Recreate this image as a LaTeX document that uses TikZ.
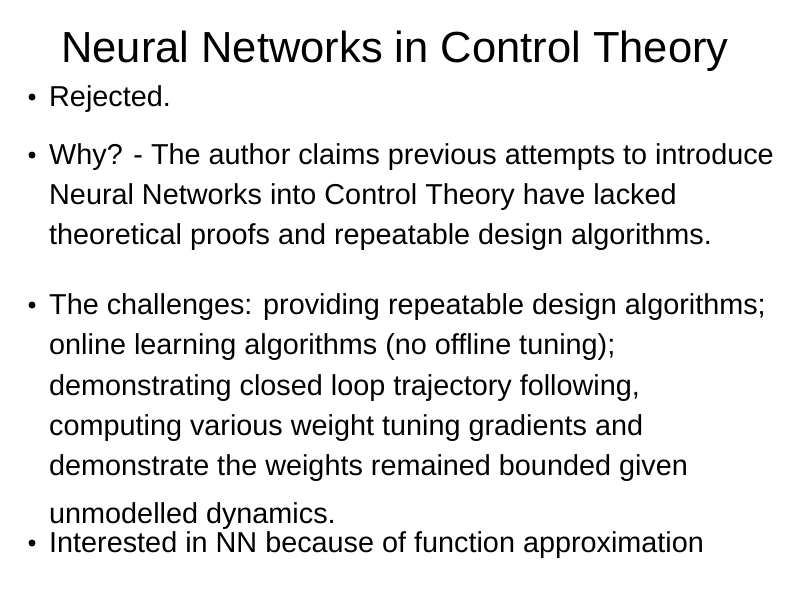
\documentclass[tikz,border=0pt]{standalone}
\usepackage{fontspec}
\setmainfont{Liberation Sans}
\begin{document}
\begin{tikzpicture}[x=1pt,y=-1pt,
  body/.style={anchor=base west,inner sep=0pt,font=\fontsize{28.8}{32}\selectfont},
  dot/.style={fill=black,circle,inner sep=0pt,minimum size=7pt}]
\useasboundingbox (0,0) rectangle (794,595);
\node[anchor=base,inner sep=0pt,font=\fontsize{43.5}{48}\selectfont] (t) at (395,62) {Neural Networks in Control Theory};
\node[dot] (b1) at (32,97) {};
\node[body] (l1) at (49,106) {Rejected.};
\node[dot] (b2) at (32,155) {};
\node[body] (l2) at (49,164) {Why? - The author claims previous attempts to introduce};
\node[body] (l3) at (49,204) {Neural Networks into Control Theory have lacked};
\node[body] (l4) at (49,244) {theoretical proofs and repeatable design algorithms.};
\node[dot] (b3) at (32,305) {};
\node[body] (l5) at (49,314) {The challenges: providing repeatable design algorithms;};
\node[body] (l6) at (49,354) {online learning algorithms (no offline tuning);};
\node[body] (l7) at (49,395) {demonstrating closed loop trajectory following,};
\node[body] (l8) at (49,435) {computing various weight tuning gradients and};
\node[body] (l9) at (49,475) {demonstrate the weights remained bounded given};
\node[body] (l10) at (49,523) {unmodelled dynamics.};
\node[dot] (b4) at (32,543) {};
\node[body] (l11) at (49,552) {Interested in NN because of function approximation};
\end{tikzpicture}
\end{document}
